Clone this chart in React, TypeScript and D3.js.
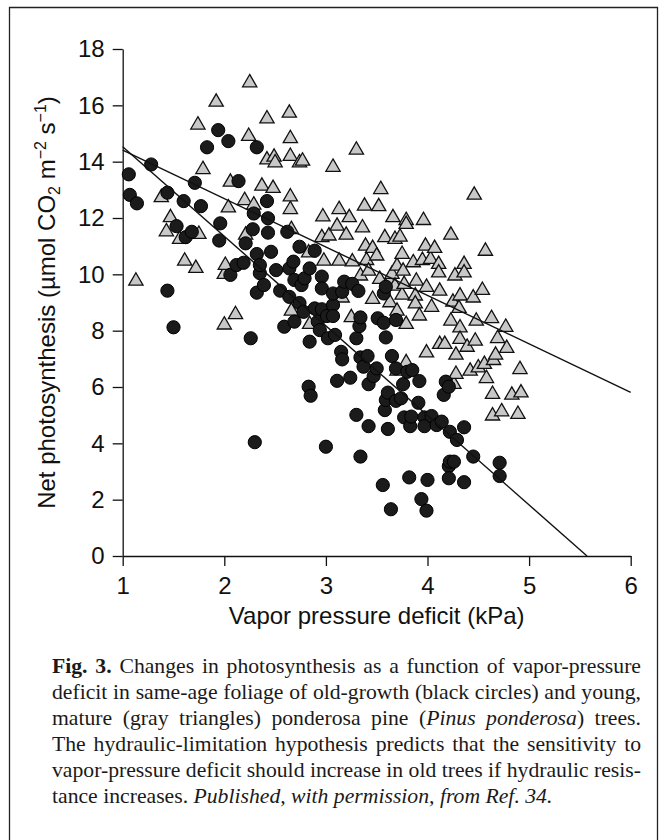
import { useEffect, useRef } from "react";
import * as d3 from "d3";

// old-growth trees (black circles): [vapor pressure deficit kPa, net photosynthesis]
const oldTrees: [number, number][] = [
  [1.06, 13.55], [1.07, 12.82], [1.14, 12.52], [1.28, 13.9], [1.44, 12.9], [1.44, 9.42],
  [1.5, 8.12], [1.53, 11.71], [1.6, 12.6], [1.62, 11.32], [1.68, 11.51], [1.71, 13.25],
  [1.77, 12.42], [1.83, 14.51], [1.94, 15.12], [1.95, 11.2], [1.96, 11.81], [2.04, 14.73],
  [2.06, 9.98], [2.12, 10.33], [2.14, 13.31], [2.19, 10.41], [2.21, 11.1], [2.26, 7.73],
  [2.28, 11.6], [2.29, 12.16], [2.3, 4.04], [2.32, 14.51], [2.32, 10.72], [2.32, 9.35],
  [2.35, 10.04], [2.35, 10.33], [2.39, 9.62], [2.42, 12.6], [2.43, 11.48], [2.43, 11.99],
  [2.46, 10.8], [2.51, 10.15], [2.55, 9.42], [2.59, 8.14], [2.62, 11.51], [2.64, 9.2],
  [2.64, 10.21], [2.68, 10.45], [2.69, 9.8], [2.69, 8.32], [2.74, 8.98], [2.74, 10.98],
  [2.76, 9.62], [2.78, 8.67], [2.79, 9.86], [2.83, 6.01], [2.84, 7.61], [2.84, 10.21],
  [2.85, 5.69], [2.89, 10.84], [2.89, 8.79], [2.92, 8.32], [2.94, 8.02], [2.96, 9.92],
  [2.96, 9.5], [2.96, 8.76], [3.0, 3.88], [3.01, 8.52], [3.02, 7.73], [3.07, 8.91],
  [3.07, 9.32], [3.07, 8.52], [3.09, 7.85], [3.11, 6.22], [3.15, 7.25], [3.16, 6.98],
  [3.16, 9.38], [3.18, 9.74], [3.24, 6.33], [3.26, 9.66], [3.3, 5.01], [3.3, 7.73],
  [3.32, 9.41], [3.33, 8.16], [3.34, 8.47], [3.34, 7.05], [3.34, 3.53], [3.37, 6.72],
  [3.41, 7.1], [3.42, 6.1], [3.42, 4.61], [3.47, 6.39], [3.5, 6.66], [3.51, 8.44],
  [3.56, 2.52], [3.57, 8.28], [3.57, 9.32], [3.58, 5.18], [3.59, 9.56], [3.59, 7.76],
  [3.59, 5.54], [3.61, 5.8], [3.61, 4.51], [3.64, 1.66], [3.65, 7.1], [3.69, 8.38],
  [3.69, 6.66], [3.69, 5.51], [3.74, 5.6], [3.76, 6.1], [3.77, 4.92], [3.8, 6.54],
  [3.82, 2.79], [3.83, 4.61], [3.84, 4.95], [3.85, 6.6], [3.91, 5.44], [3.92, 6.21],
  [3.94, 2.02], [3.97, 4.92], [3.97, 4.61], [3.99, 1.61], [4.0, 2.7], [4.04, 4.97],
  [4.09, 4.65], [4.14, 4.77], [4.16, 5.72], [4.18, 6.19], [4.21, 6.01], [4.21, 3.19],
  [4.21, 2.76], [4.22, 4.41], [4.22, 3.35], [4.26, 3.35], [4.29, 4.12], [4.36, 2.62],
  [4.36, 4.57], [4.45, 3.53], [4.71, 3.31], [4.71, 2.84],
];

// young, mature trees (gray triangles)
const youngTrees: [number, number][] = [
  [1.13, 9.8], [1.38, 12.76], [1.43, 11.55], [1.47, 12.05], [1.56, 11.28], [1.61, 10.51],
  [1.72, 10.25], [1.74, 15.34], [1.75, 11.46], [1.79, 13.76], [1.92, 16.15], [2.0, 10.04],
  [2.0, 8.24], [2.01, 10.36], [2.04, 12.4], [2.06, 13.31], [2.11, 8.61], [2.2, 12.66],
  [2.21, 11.43], [2.24, 14.94], [2.25, 16.84], [2.29, 12.5], [2.37, 13.17], [2.42, 15.56],
  [2.42, 14.1], [2.48, 13.09], [2.49, 14.2], [2.5, 14.0], [2.64, 15.76], [2.65, 14.86],
  [2.65, 12.34], [2.65, 14.23], [2.65, 12.79], [2.66, 11.63], [2.66, 8.73], [2.74, 14.0],
  [2.77, 14.06], [2.83, 10.8], [2.84, 8.26], [2.96, 11.34], [2.97, 12.08], [2.98, 10.51],
  [3.03, 11.4], [3.07, 13.84], [3.11, 11.75], [3.13, 12.34], [3.13, 10.51], [3.16, 9.2],
  [3.2, 11.43], [3.23, 12.05], [3.25, 8.5], [3.26, 10.48], [3.3, 14.45], [3.34, 9.98],
  [3.36, 11.69], [3.38, 12.46], [3.39, 11.04], [3.4, 10.53], [3.42, 10.15], [3.46, 10.96],
  [3.46, 9.15], [3.5, 10.69], [3.52, 12.44], [3.53, 9.86], [3.54, 13.05], [3.58, 11.34],
  [3.63, 9.8], [3.63, 9.03], [3.65, 10.04], [3.66, 12.05], [3.68, 11.28], [3.68, 9.62],
  [3.7, 10.33], [3.7, 8.73], [3.7, 6.6], [3.73, 11.36], [3.75, 10.75], [3.75, 9.3],
  [3.76, 10.15], [3.77, 9.68], [3.79, 11.95], [3.79, 11.81], [3.79, 8.26], [3.79, 6.9],
  [3.86, 10.45], [3.88, 9.27], [3.88, 8.99], [3.89, 9.8], [3.92, 8.56], [3.95, 10.53],
  [3.96, 11.95], [3.98, 11.04], [3.99, 9.58], [3.99, 7.25], [4.03, 10.57], [4.04, 8.87],
  [4.07, 10.96], [4.11, 10.39], [4.11, 10.09], [4.12, 9.44], [4.12, 7.55], [4.17, 7.55],
  [4.23, 11.43], [4.23, 8.38], [4.25, 9.05], [4.26, 6.13], [4.27, 9.98], [4.28, 7.17],
  [4.28, 6.49], [4.31, 8.83], [4.32, 9.27], [4.32, 8.14], [4.32, 7.73], [4.36, 10.39],
  [4.36, 10.09], [4.39, 7.45], [4.42, 6.6], [4.45, 9.2], [4.46, 12.85], [4.47, 7.67],
  [4.48, 8.38], [4.5, 6.72], [4.54, 9.47], [4.56, 6.84], [4.57, 10.86], [4.58, 6.34],
  [4.63, 8.47], [4.64, 5.78], [4.64, 5.01], [4.65, 6.98], [4.67, 7.17], [4.69, 7.76],
  [4.73, 5.16], [4.77, 8.16], [4.78, 7.41], [4.83, 5.75], [4.89, 5.07], [4.91, 6.66],
  [4.92, 5.83],
];

// fitted regression lines (end points)
const oldFit: [number, number][] = [[1, 14.53], [5.57, 0]];
const youngFit: [number, number][] = [[1, 14.41], [6, 5.81]];

const xTicks = [1, 2, 3, 4, 5, 6];
const yTicks = [0, 2, 4, 6, 8, 10, 12, 14, 16, 18];

type Seg = { t: string; b?: boolean; i?: boolean };
const captionLines: Seg[][] = [
  [{ t: "Fig. 3.", b: true }, { t: " Changes in photosynthesis as a function of vapor-pressure" }],
  [{ t: "deficit in same-age foliage of old-growth (black circles) and young," }],
  [{ t: "mature (gray triangles) ponderosa pine (" }, { t: "Pinus ponderosa", i: true }, { t: ") trees." }],
  [{ t: "The hydraulic-limitation hypothesis predicts that the sensitivity to" }],
  [{ t: "vapor-pressure deficit should increase in old trees if hydraulic resis-" }],
  [{ t: "tance increases. " }, { t: "Published, with permission, from Ref. 34.", i: true }],
];

const SANS = "'Liberation Sans', Arial, Helvetica, sans-serif";
const SERIF = "'Liberation Serif', 'Times New Roman', Times, serif";

const App = () => {
  const svgRef = useRef<SVGSVGElement | null>(null);

  useEffect(() => {
    const width = 666;
    const height = 840;
    const plot = { left: 122.7, right: 630.7, top: 49, bottom: 556 };

    const x = d3.scaleLinear().domain([1, 6]).range([plot.left, plot.right]);
    const y = d3.scaleLinear().domain([0, 18]).range([plot.bottom, plot.top]);

    const svg = d3.select(svgRef.current);
    svg.selectAll("*").remove();

    svg.append("rect").attr("width", width).attr("height", height).attr("fill", "#fff");

    // frame round the figure
    svg
      .append("path")
      .attr("d", "M9.5,850V7.5H657.5V850")
      .attr("fill", "none")
      .attr("stroke", "#222")
      .attr("stroke-width", 1.3);

    // axes
    const gx = svg
      .append("g")
      .attr("transform", `translate(0,${plot.bottom})`)
      .call(
        d3
          .axisBottom(x)
          .tickValues(xTicks)
          .tickFormat(d3.format("d"))
          .tickSize(10)
          .tickSizeOuter(0)
          .tickPadding(11)
      );
    const gy = svg
      .append("g")
      .attr("transform", `translate(${plot.left},0)`)
      .call(
        d3
          .axisLeft(y)
          .tickValues(yTicks)
          .tickFormat(d3.format("d"))
          .tickSize(10)
          .tickSizeOuter(0)
          .tickPadding(8)
      );

    [gx, gy].forEach((g) => {
      g.attr("font-family", SANS).attr("font-size", 24);
      g.selectAll("path, line").attr("stroke", "#111").attr("stroke-width", 1.3);
      g.selectAll("text").attr("fill", "#111");
    });

    svg
      .append("text")
      .attr("x", (plot.left + plot.right) / 2)
      .attr("y", 624)
      .attr("text-anchor", "middle")
      .attr("font-family", SANS)
      .attr("font-size", 24)
      .attr("fill", "#111")
      .text("Vapor pressure deficit (kPa)");

    const yl = svg
      .append("text")
      .attr("transform", `translate(55,${(plot.top + plot.bottom) / 2}) rotate(-90)`)
      .attr("text-anchor", "middle")
      .attr("font-family", SANS)
      .attr("font-size", 24)
      .attr("fill", "#111");
    yl.append("tspan").text("Net photosynthesis (µmol CO");
    yl.append("tspan").attr("font-size", 16).attr("baseline-shift", "-5").text("2");
    yl.append("tspan").text(" m");
    yl.append("tspan").attr("font-size", 16).attr("baseline-shift", "9").text("−2");
    yl.append("tspan").text(" s");
    yl.append("tspan").attr("font-size", 16).attr("baseline-shift", "9").text("−1");
    yl.append("tspan").text(")");

    // young trees: gray triangles
    const tri = d3.symbol().type(d3.symbolTriangle).size(88);
    svg
      .append("g")
      .selectAll("path")
      .data(youngTrees)
      .join("path")
      .attr("transform", (d) => `translate(${x(d[0])},${y(d[1]) + 1})`)
      .attr("d", tri)
      .attr("fill", "#c8c8c8")
      .attr("stroke", "#111")
      .attr("stroke-width", 1.3)
      .attr("stroke-linejoin", "miter");

    // old trees: black circles
    svg
      .append("g")
      .selectAll("circle")
      .data(oldTrees)
      .join("circle")
      .attr("cx", (d) => x(d[0]))
      .attr("cy", (d) => y(d[1]))
      .attr("r", 6.6)
      .attr("fill", "#1b1b1b")
      .attr("stroke", "#000")
      .attr("stroke-width", 1);

    const line = d3
      .line<[number, number]>()
      .x((d) => x(d[0]))
      .y((d) => y(d[1]));

    [oldFit, youngFit].forEach((fit) => {
      svg
        .append("path")
        .datum(fit)
        .attr("d", line)
        .attr("fill", "none")
        .attr("stroke", "#111")
        .attr("stroke-width", 1.4);
    });

    // caption, justified between left and right margins
    const capLeft = 52;
    const capRight = 641;
    captionLines.forEach((segs, i) => {
      const t = svg
        .append("text")
        .attr("x", capLeft)
        .attr("y", 673 + i * 26)
        .attr("font-family", SERIF)
        .attr("font-size", 21.7)
        .attr("fill", "#1a1a1a");
      segs.forEach((s) => {
        t.append("tspan")
          .attr("font-weight", s.b ? "bold" : null)
          .attr("font-style", s.i ? "italic" : null)
          .text(s.t);
      });
      if (i < captionLines.length - 1) {
        const node = t.node() as SVGTextElement;
        const natural = node.getComputedTextLength();
        const spaces = segs.map((s) => s.t).join("").split(" ").length - 1;
        if (spaces > 0) {
          t.attr("word-spacing", (capRight - capLeft - natural) / spaces);
        }
      }
    });
  }, []);

  return (
    <svg
      ref={svgRef}
      width={666}
      height={840}
      viewBox="0 0 666 840"
      style={{ position: "absolute", left: 0, top: 0 }}
    />
  );
};

export default App;
